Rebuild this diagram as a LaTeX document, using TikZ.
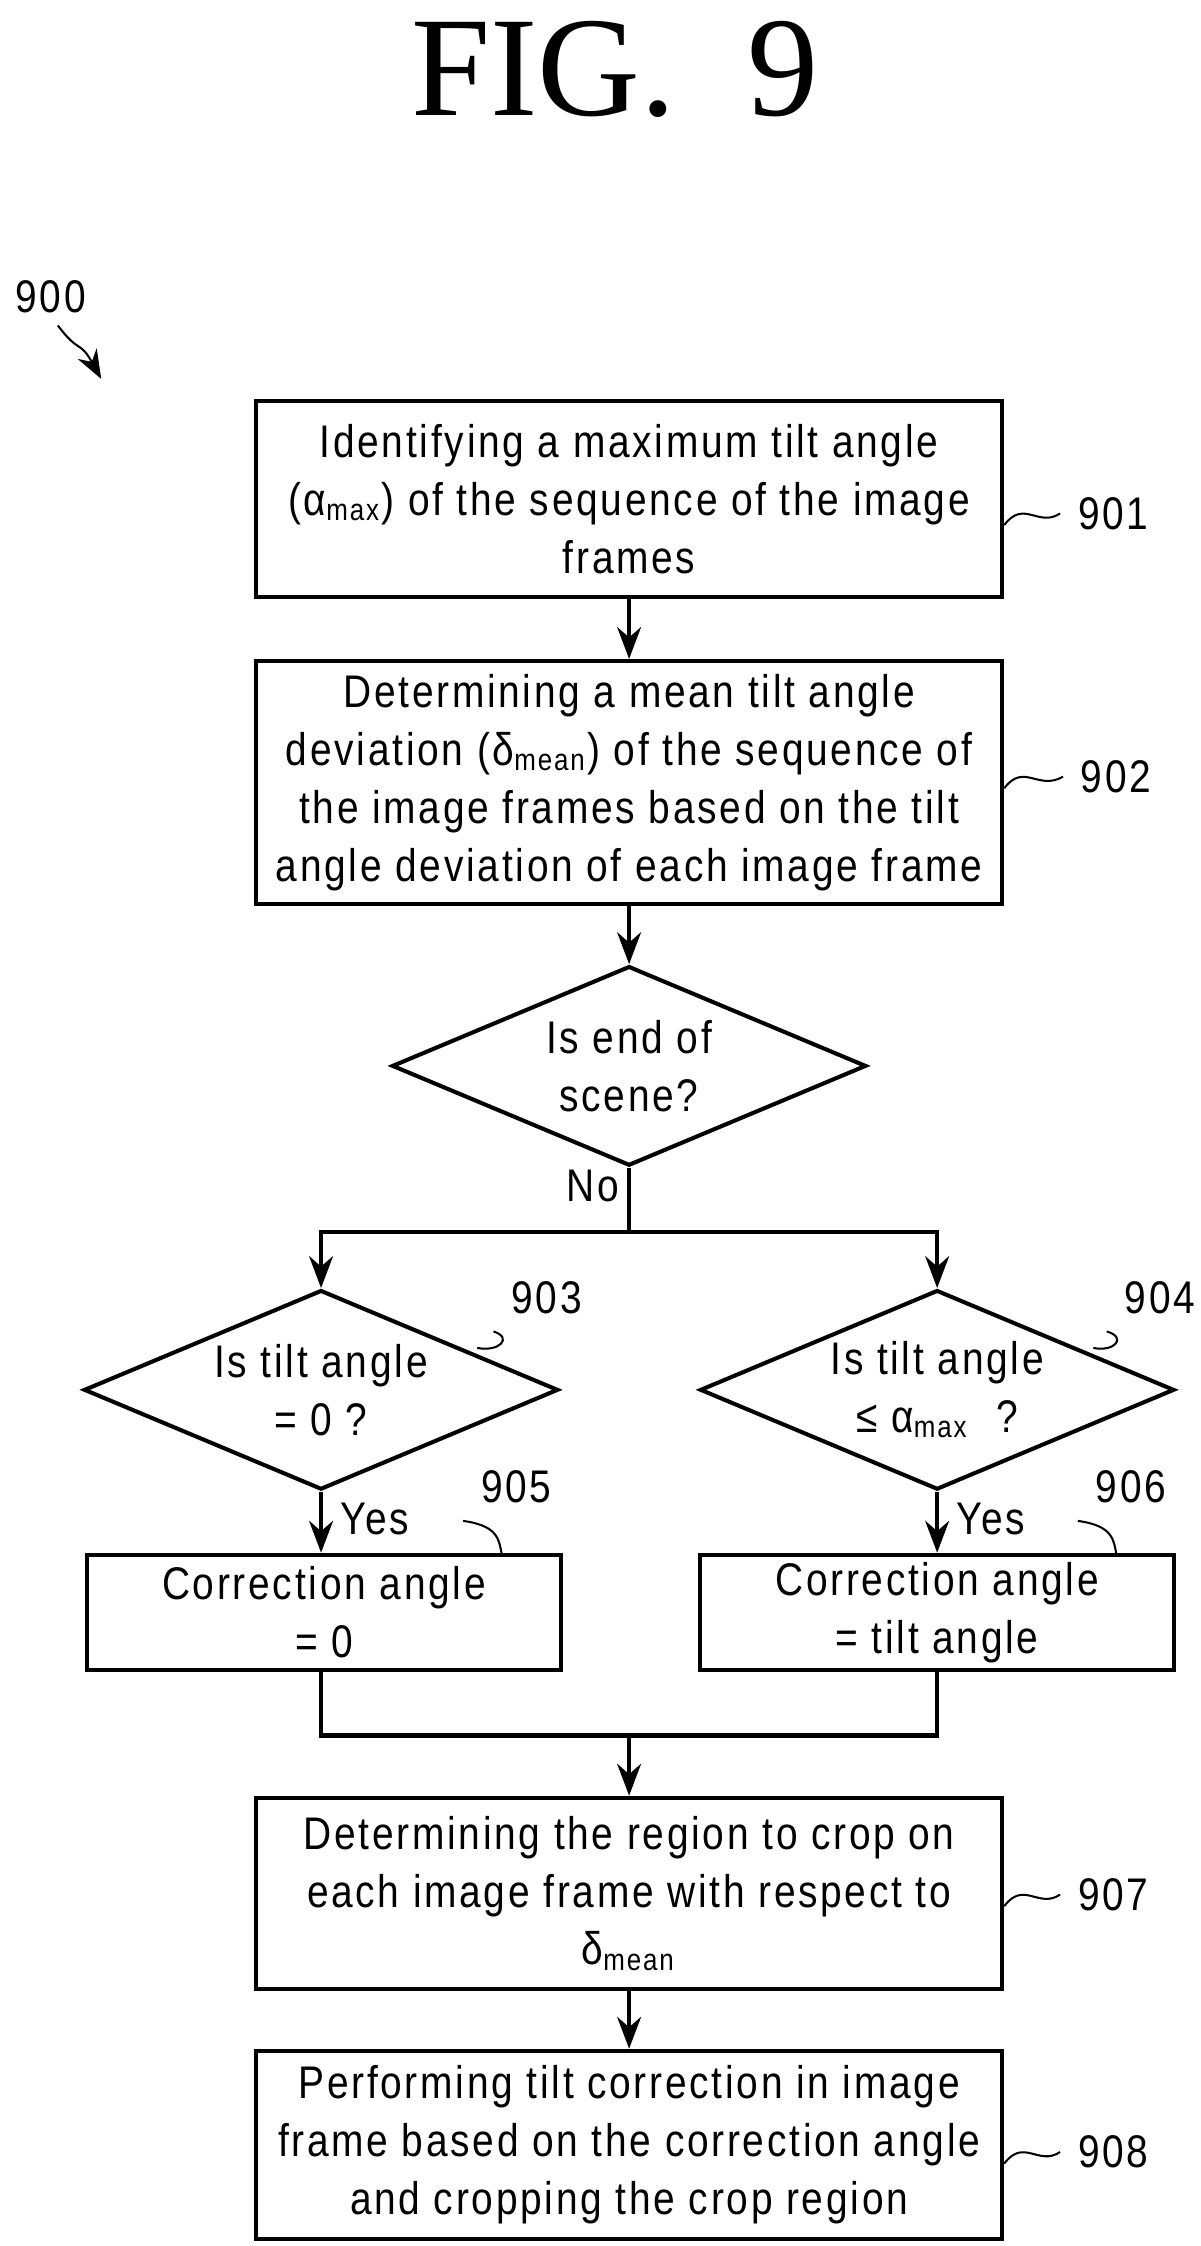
\documentclass[tikz,border=0pt]{standalone}
\usepackage{fontspec}
\setmainfont{Liberation Sans}[FakeStretch=0.85,LetterSpace=6]
\newfontfamily\titlefont{Liberation Serif}
\usetikzlibrary{arrows.meta,shapes.geometric,positioning}
\tikzset{
  box/.style={draw,thick,minimum width=51.6mm,inner sep=1pt,align=center,font=\fontsize{9}{11.4}\selectfont},
  sbox/.style={draw,thick,minimum width=32.8mm,minimum height=8mm,inner sep=1pt,align=center,font=\fontsize{9}{11.4}\selectfont},
  dec/.style={draw,thick,diamond,aspect=2.38,inner sep=0pt,minimum width=32.8mm,minimum height=13.8mm,align=center,font=\fontsize{9}{11.4}\selectfont},
  lbl/.style={font=\fontsize{9}{11}\selectfont},
  arr/.style={thick,-{Stealth[length=2.2mm]}},
  wav/.style={thin}
}
\begin{document}
\begin{tikzpicture}[x=0.1mm,y=-0.1mm]
\useasboundingbox (0,0) rectangle (830,1553);
\node[font=\titlefont\fontsize{28}{28}\selectfont] (title) at (425,48) {FIG.~~9};
% start
\node[lbl] (n900) at (35,205) {900};
\coordinate (s900) at (70,262);
\draw[wav,-{Stealth[length=2mm]}] (40,225) .. controls (55,245) and (55,235) .. (s900);
% boxes
\node[box,minimum height=13.5mm] (b901) at (435,345) {Identifying a maximum tilt angle\\(α\textsubscript{max}) of the sequence of the image\\frames};
\node[box,minimum height=16.8mm] (b902) at (435,541) {Determining a mean tilt angle\\deviation (δ\textsubscript{mean}) of the sequence of\\the image frames based on the tilt\\angle deviation of each image frame};
\node[dec] (d0) at (435,737) {Is end of\\scene?};
\node[dec] (d903) at (222,961) {Is tilt angle\\= 0 ?};
\node[dec] (d904) at (648,961) {Is tilt angle\\≤ α\textsubscript{max}\ \ ?};
\node[sbox] (b905) at (224,1115) {Correction angle\\= 0};
\node[sbox] (b906) at (648,1115) {Correction angle\\= tilt angle};
\node[box,minimum height=13.2mm] (b907) at (435,1309) {Determining the region to crop on\\each image frame with respect to\\δ\textsubscript{mean}};
\node[box,minimum height=13mm] (b908) at (435,1483) {Performing tilt correction in image\\frame based on the correction angle\\and cropping the crop region};
% labels
\node[lbl,anchor=west] (n901) at (733,355) {901};
\node[lbl,anchor=west] (n902) at (735,537) {902};
\node[lbl] (n903) at (378,897) {903};
\node[lbl] (n904) at (802,897) {904};
\node[lbl] (n905) at (357,1028) {905};
\node[lbl] (n906) at (782,1028) {906};
\node[lbl,anchor=west] (n907) at (733,1310) {907};
\node[lbl,anchor=west] (n908) at (733,1488) {908};
\foreach \n/\y in {901/355,902/537,907/1310,908/1488}
  \draw[wav] (b\n.east |- 0,\y+8) .. controls (708,\y-10) and (718,\y+10) .. (n\n.west);
\draw[wav] (n903.south west) .. controls (355,925) and (345,935) .. (330,932);
\draw[wav] (n904.south west) .. controls (780,925) and (770,935) .. (756,932);
\draw[wav] (n905.south west) .. controls (345,1055) and (345,1065) .. (347,1075);
\draw[wav] (n906.south west) .. controls (770,1055) and (770,1065) .. (772,1075);
% connectors
\draw[arr] (b901) -- (b902);
\draw[arr] (b902) -- (d0);
\coordinate (j0) at (435,852);
\draw[thick] (d0.south) -- (j0);
\node[lbl] at (410,820) {No};
\draw[arr] (j0) -| (d903.north);
\draw[arr] (j0) -| (d904.north);
\draw[arr] (d903.south) -- node[lbl,right,pos=0.45] {Yes} (d903.south |- b905.north);
\draw[arr] (d904.south) -- node[lbl,right,pos=0.45] {Yes} (b906.north);
\coordinate (j1) at (435,1200);
\draw[thick] (d903.south |- b905.south) |- (j1);
\draw[thick] (b906.south) |- (j1);
\draw[arr] (j1) -- (b907);
\draw[arr] (b907) -- (b908);
\end{tikzpicture}
\end{document}
